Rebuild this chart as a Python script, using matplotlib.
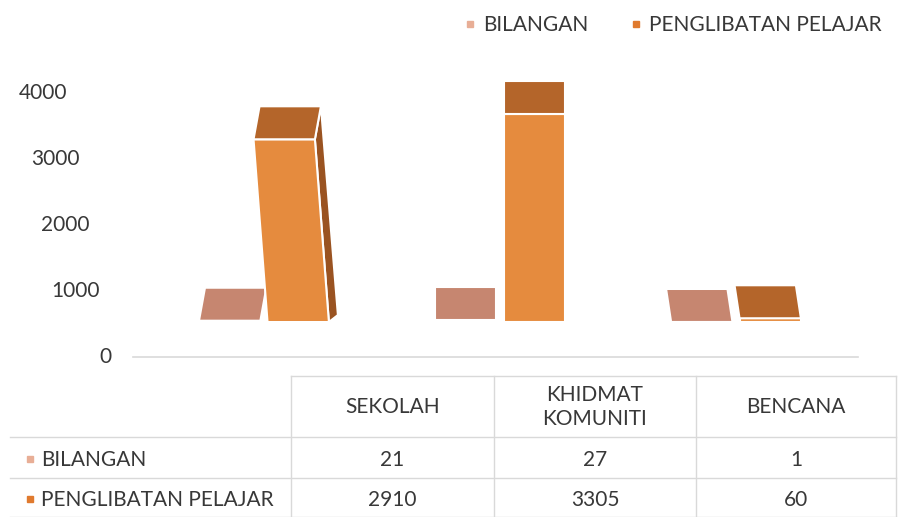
import matplotlib.pyplot as plt
from matplotlib.transforms import blended_transform_factory

categories = ['SEKOLAH', 'KHIDMAT\nKOMUNITI', 'BENCANA']
series = ['BILANGAN', 'PENGLIBATAN PELAJAR']
bilangan = [21, 27, 1]
penglibatan = [2910, 3305, 60]
yticks = [0, 1000, 2000, 3000, 4000]

plt.rcParams['font.family'] = ['Lato', 'DejaVu Sans']
W, H = 898, 517
fig = plt.figure(figsize=(W / 100, H / 100), dpi=100)
txt = '#383838'
grid = '#d9d9d9'
fs = 15

# overlay in pixel coords for legend + table
ov = fig.add_axes([0, 0, 1, 1], zorder=0)
ov.set_xlim(0, W)
ov.set_ylim(H, 0)
ov.axis('off')

# chart area (pixel 146..854 across, 60..365 down)
ax = fig.add_axes([146 / W, (H - 365) / H, 708 / W, 305 / H], zorder=1)
ax.set_xlim(-0.5, 2.5)
ax.set_ylim(-115, 4499)
ax.axis('off')

px_x = 3 / 708
px_y = (4499 + 115) / 305

# floor line
ax.plot([-0.5 - 13 * px_x, 2.5 + 4 * px_x], [0, 0], color=grid, lw=1.2, clip_on=False)

# staggered tick labels (perspective)
tr = blended_transform_factory(fig.transFigure, ax.transData)
tick_right = [111, 100, 90, 80, 67]
for t, xr in zip(yticks, tick_right):
    ax.text(xr / W, t, str(t), transform=tr, ha='right', va='center',
            fontsize=fs, color=txt)

# fake 3d boxes
base = 535
k = 0.95
depth = 33 * px_y
width = 0.26
offs = [-0.145, 0.145]
top_shift = [6, 0, -5]
lean = [-14, 0, 0]
side_w = [9, 0, 0]
front_cols = ['#C98A70', '#E58B3E']
top_cols = ['#C68670', '#B4652A']
side_col = '#9A5321'

for j, vals in enumerate([bilangan, penglibatan]):
    for i, v in enumerate(vals):
        xc = i + offs[j]
        l, r = xc - width / 2, xc + width / 2
        h = v * k
        y0, y1 = base, base + h
        ln = lean[i] * px_x * h / 2765
        ts = top_shift[i] * px_x
        if side_w[i] and h > 500:
            ax.fill([r, r + ln, r + ln + ts, r + side_w[i] * px_x],
                    [y0, y1, y1 + depth, y0 + 7 * px_y],
                    color=side_col, ec='white', lw=1.5)
        ax.fill([l, r, r + ln, l + ln], [y0, y0, y1, y1],
                color=front_cols[j], ec='white', lw=1.5)
        ax.fill([l + ln, r + ln, r + ln + ts, l + ln + ts],
                [y1, y1, y1 + depth, y1 + depth],
                color=top_cols[j], ec='white', lw=1.5)

# legend
leg_cols = ['#E8AE96', '#E07A2E']
leg_x = [470, 636]
for name, c, x in zip(series, leg_cols, leg_x):
    ov.plot(x, 24, marker='s', ms=4.5, color=c, mec=c)
    ov.text(x + 13, 25, name, ha='left', va='center', fontsize=fs, color=txt)

# data table
cols = [291, 494, 696, 896]
rows = [376, 437, 478, 517]
ov.plot([cols[0], cols[-1]], [rows[0], rows[0]], color=grid, lw=1)
for yy in rows[1:]:
    ov.plot([10, cols[-1]], [yy, yy], color=grid, lw=1)
for xx in cols:
    ov.plot([xx, xx], [rows[0], rows[-1]], color=grid, lw=1)

centers = [(cols[n] + cols[n + 1]) / 2 for n in range(3)]
for c, name in zip(centers, categories):
    ov.text(c, 407, name, ha='center', va='center', fontsize=fs,
            color=txt, linespacing=1.2)

row_y = [460, 500]
for name, c, yy, vals in zip(series, leg_cols, row_y, [bilangan, penglibatan]):
    ov.plot(30, yy - 1, marker='s', ms=4.5, color=c, mec=c)
    ov.text(41, yy, name, ha='left', va='center', fontsize=fs, color=txt)
    for cx, v in zip(centers, vals):
        ov.text(cx, yy, str(v), ha='center', va='center', fontsize=fs, color=txt)

fig.savefig('out.png', dpi=100)
